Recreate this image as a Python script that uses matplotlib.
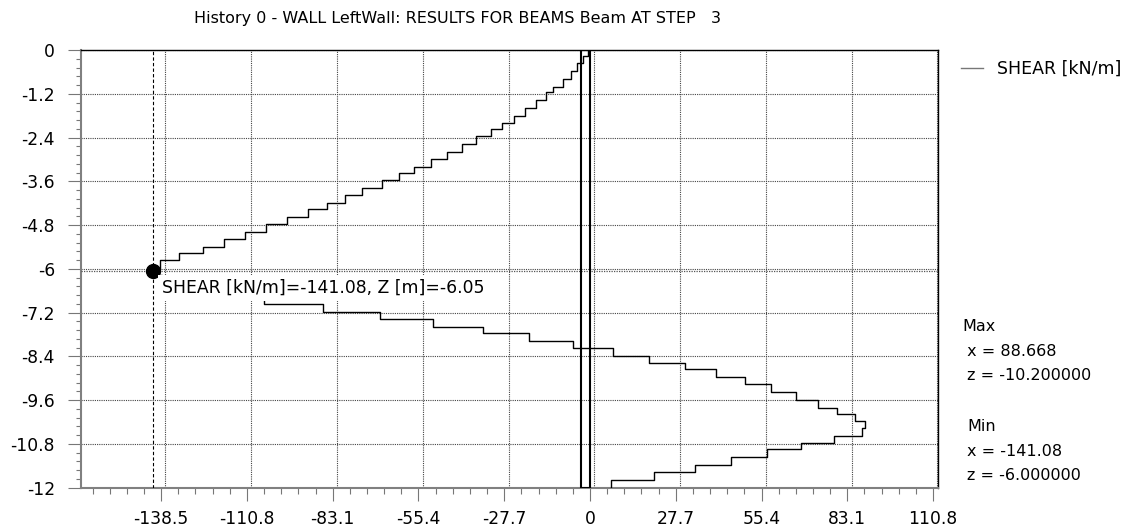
import numpy as np
import matplotlib.pyplot as plt
from matplotlib.patches import Rectangle
from matplotlib.ticker import MultipleLocator, FixedLocator
from matplotlib.transforms import offset_copy

# element boundaries along the wall [m]
z_edges = [0.0, -0.155, -0.365, -0.585, -0.795, -1.014, -1.16, -1.371, -1.59, -1.8,
           -2.0, -2.166, -2.367, -2.568, -2.787, -2.988, -3.198, -3.363, -3.573, -3.774,
           -3.984, -4.203, -4.359, -4.569, -4.77, -4.98, -5.19, -5.4, -5.556, -5.766,
           -6.0, -6.17, -6.38, -6.58, -6.79, -6.954, -7.173, -7.383, -7.593, -7.758,
           -7.968, -8.178, -8.388, -8.589, -8.745, -8.955, -9.165, -9.384, -9.594, -9.805,
           -9.969, -10.17, -10.371, -10.581, -10.782, -10.947, -11.166, -11.367, -11.577, -11.787,
           -12.0]
# shear per element [kN/m]
shear = [-0.6, -2.4, -4.3, -6.2, -8.8, -11.8, -14.2, -17.3, -21.1, -24.7,
         -28.5, -32.0, -36.9, -41.4, -46.3, -51.2, -56.8, -61.8, -67.3, -73.5,
         -79.0, -85.1, -91.2, -98.0, -104.8, -111.5, -118.3, -125.1, -132.6, -138.8,
         -141.08, -138.2, -131.5, -120.0, -105.3, -86.2, -67.7, -50.6, -34.4, -19.6,
         -5.5, 7.4, 19.0, 30.7, 40.7, 50.0, 58.5, 66.5, 73.6, 79.9,
         85.5, 88.668, 87.9, 78.8, 68.3, 57.2, 45.4, 33.8, 20.8, 6.8]

x_ticks = [-138.5, -110.8, -83.1, -55.4, -27.7, 0, 27.7, 55.4, 83.1, 110.8]
x_labels = ['-138.5', '-110.8', '-83.1', '-55.4', '-27.7', '0', '27.7', '55.4', '83.1', '110.8']
z_ticks = [0, -1.2, -2.4, -3.6, -4.8, -6, -7.2, -8.4, -9.6, -10.8, -12]
z_labels = ['0', '-1.2', '-2.4', '-3.6', '-4.8', '-6', '-7.2', '-8.4', '-9.6', '-10.8', '-12']

max_x, max_z = 88.668, -10.2
min_x, min_z = -141.08, -6.0
cursor_x, cursor_z = -141.08, -6.05

W, H = 1132, 527
fig = plt.figure(figsize=(W / 100, H / 100), dpi=100)
ax = fig.add_axes([81 / W, 1 - 487.7 / H, (937.7 - 81) / W, (487.7 - 50) / H])

# step line of the shear distribution
zs = np.repeat(z_edges, 2)[1:-1]
xs = np.repeat(shear, 2)
ax.plot(xs, zs, color='black', lw=1.0, zorder=4, label='SHEAR [kN/m]')

# wall outline
ax.add_patch(Rectangle((-2.9, -12), 3.0, 12, fill=False, ec='black', lw=1.5, zorder=5))

# grid: horizontal lines on the ticks, vertical ones drawn a few pixels right of
# their ticks like the original program does
grid_style = dict(color='#444444', lw=0.8, ls=(0, (1, 1)), zorder=1)
ax.yaxis.grid(True, which='major', **grid_style)
shifted = offset_copy(ax.get_xaxis_transform(), fig=fig, x=4.3, y=0, units='dots')
for t in x_ticks:
    ax.plot([t, t], [0, 1], transform=shifted, **grid_style)

# cursor
ax.axvline(cursor_x, color='black', lw=0.8, ls=(0, (3, 2)), zorder=3)
ax.axhline(cursor_z, color='#555555', lw=0.9, ls=(0, (1, 1)), zorder=3)
ax.plot([cursor_x], [cursor_z], 'o', color='black', ms=10, zorder=6)
ax.text(-138.2, -6.53, 'SHEAR [kN/m]=%.2f, Z [m]=%.2f' % (cursor_x, cursor_z),
        fontsize=12.4, ha='left', va='center', zorder=7,
        bbox=dict(facecolor='white', edgecolor='none', pad=3))

ax.set_xlim(-164.4, 112.3)
ax.set_ylim(-12, 0)
ax.xaxis.set_major_locator(FixedLocator(x_ticks))
ax.set_xticklabels(x_labels)
ax.xaxis.set_minor_locator(MultipleLocator(5.54))
ax.yaxis.set_major_locator(FixedLocator(z_ticks))
ax.set_yticklabels(z_labels)
ax.yaxis.set_minor_locator(MultipleLocator(0.24))
ax.set_axisbelow(True)

ax.tick_params(axis='x', which='major', length=9.4, width=0.8, color='#777777',
               labelsize=12.3, pad=7)
ax.tick_params(axis='x', which='minor', length=4.1, width=0.8, color='#777777')
ax.tick_params(axis='y', which='major', length=9.4, width=0.8, color='#777777',
               labelsize=12.3, pad=9.4)
ax.tick_params(axis='y', which='minor', length=3.6, width=0.8, color='#777777')

for side in ['left', 'bottom']:
    ax.spines[side].set_color('#808080')
    ax.spines[side].set_linewidth(1.5)
for side in ['top', 'right']:
    ax.spines[side].set_color('black')
    ax.spines[side].set_linewidth(1.0)

fig.text(194 / W, 1 - 18.5 / H,
         'History 0 - WALL LeftWall: RESULTS FOR BEAMS Beam AT STEP   3',
         fontsize=11.5, ha='left', va='center')

leg = fig.legend(loc='center left', bbox_to_anchor=(961 / W, 1 - 69 / H),
                 frameon=False, fontsize=12.5, handlelength=1.27,
                 handletextpad=0.8, borderpad=0, borderaxespad=0)
leg.get_lines()[0].set_color('#777777')

info = [('Max', 962, 326.7), (' x = %.3f' % max_x, 962, 351.7), (' z = %.6f' % max_z, 962, 376),
        ('Min', 967, 426.7), ('x = %.2f' % min_x, 967, 451.7), ('z = %.6f' % min_z, 967, 475)]
for txt, px, py in info:
    fig.text(px / W, 1 - py / H, txt, fontsize=11.5, ha='left', va='center')

fig.savefig('out.png', dpi=100)
